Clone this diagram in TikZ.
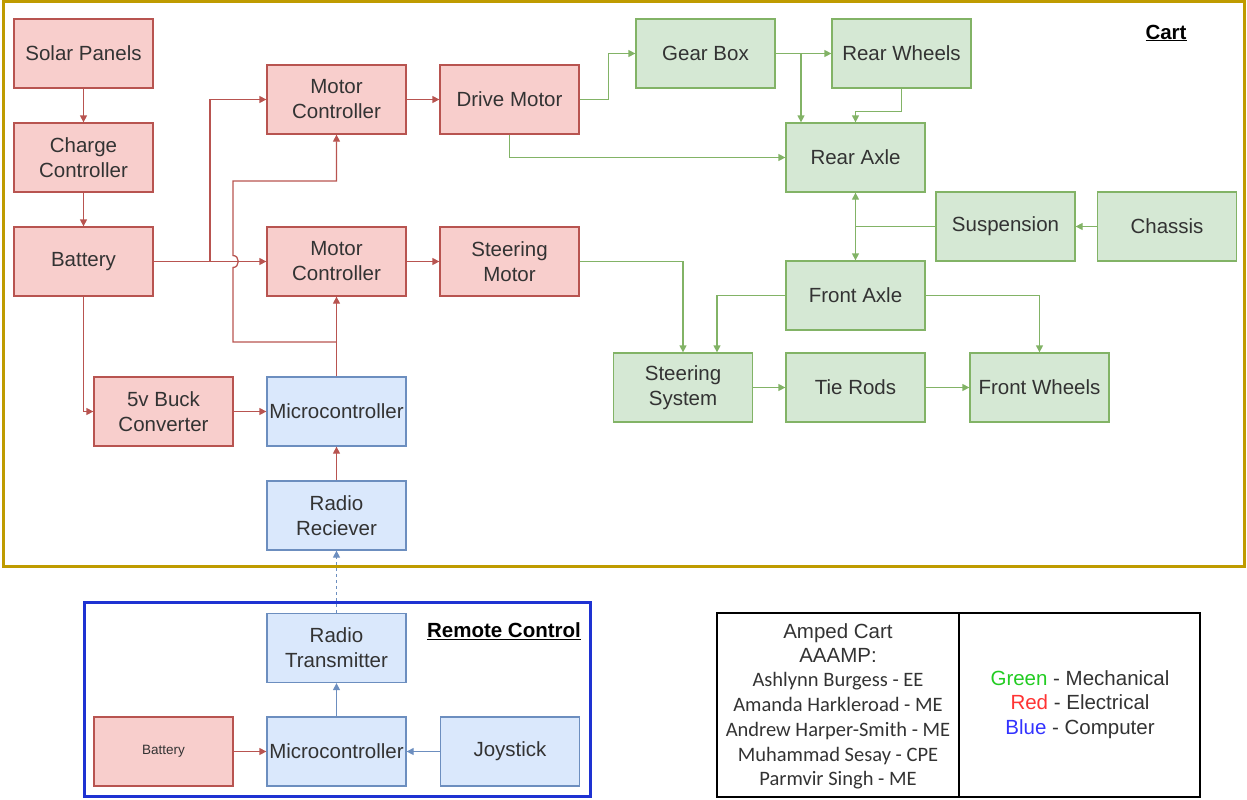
\documentclass[tikz,border=0pt]{standalone}
\usepackage{fontspec}
\setmainfont{Liberation Sans}
\newfontfamily\carlito{Carlito}
\usetikzlibrary{arrows.meta,calc}
\definecolor{rfill}{HTML}{F8CECC}
\definecolor{rdraw}{HTML}{B85450}
\definecolor{gfill}{HTML}{D5E8D4}
\definecolor{gdraw}{HTML}{82B366}
\definecolor{bfill}{HTML}{DAE8FC}
\definecolor{bdraw}{HTML}{6C8EBF}
\definecolor{gold}{HTML}{BF9B00}
\definecolor{rcblue}{HTML}{1E32D2}
\definecolor{txt}{HTML}{333333}
\definecolor{lgreen}{HTML}{22CC22}
\definecolor{lred}{HTML}{FF3333}
\definecolor{lblue}{HTML}{3333FF}
\tikzset{
  box/.style={minimum width=139pt, minimum height=69pt, inner sep=0pt, align=center, line width=1.3pt,
    text=txt, font=\fontsize{20.5}{25}\selectfont},
  rbox/.style={box, fill=rfill, draw=rdraw},
  gbox/.style={box, fill=gfill, draw=gdraw},
  bbox/.style={box, fill=bfill, draw=bdraw},
  tip/.style={-{Triangle[length=7pt,width=7pt]}},
  rarr/.style={tip, draw=rdraw, line width=1.3pt},
  garr/.style={tip, draw=gdraw, line width=1.3pt},
  barr/.style={tip, draw=bdraw, line width=1.3pt},
  lbl/.style={font=\fontsize{20.5}{24}\selectfont\bfseries, text=black},
  legtxt/.style={font=\fontsize{20.5}{24.5}\selectfont, text=txt, align=center},
}
\begin{document}
\begin{tikzpicture}[x=1pt,y=-1pt]
\useasboundingbox (0,0) rectangle (1247,800);
% frames
\draw[gold, line width=3pt] (3,2) rectangle (1244,566);
\draw[rcblue, line width=3pt] (84,602) rectangle (590,796);
\node[lbl] (cartlbl) at (1166,33) {\underline{Cart}};
\node[lbl] (rclbl) at (504,631) {\underline{Remote Control}};
% red / blue nodes in cart
\node[rbox] (solar) at (83.5,53.5) {Solar Panels};
\node[rbox] (charge) at (83.5,157.5) {Charge\\Controller};
\node[rbox] (batt) at (83.5,261.5) {Battery};
\node[rbox] (mc1) at (336.5,99.5) {Motor\\Controller};
\node[rbox] (mc2) at (336.5,261.5) {Motor\\Controller};
\node[rbox] (drive) at (509.5,99.5) {Drive Motor};
\node[rbox] (steer) at (509.5,261.5) {Steering\\Motor};
\node[rbox] (buck) at (163.5,411.5) {5v Buck\\Converter};
\node[bbox] (micro) at (336.5,411.5) {Microcontroller};
\node[bbox] (recv) at (336.5,515.5) {Radio\\Reciever};
% green nodes
\node[gbox] (gear) at (705.5,53.5) {Gear Box};
\node[gbox] (rearw) at (901.5,53.5) {Rear Wheels};
\node[gbox] (rearax) at (855.5,157.5) {Rear Axle};
\node[gbox] (susp) at (1005.5,226.5) {Suspension};
\node[gbox] (chassis) at (1167,226.5) {Chassis};
\node[gbox] (frontax) at (855.5,295.5) {Front Axle};
\node[gbox] (steersys) at (683,387.5) {Steering\\System};
\node[gbox] (tie) at (855.5,387.5) {Tie Rods};
\node[gbox] (frontw) at (1039.5,387.5) {Front Wheels};
% remote
\node[bbox] (trans) at (336.5,648) {Radio\\Transmitter};
\node[bbox] (rmicro) at (336.5,751.5) {Microcontroller};
\node[rbox, font=\fontsize{13.5}{16}\selectfont] (rbatt) at (163.5,751.5) {Battery};
\node[bbox] (joy) at (510,751.5) {Joystick};
% red connectors
\draw[rarr] (solar.south) -- (charge.north);
\draw[rarr] (charge.south) -- (batt.north);
\draw[rarr] (batt.east) -- (mc2.west);
\coordinate (j1) at (210,261.5);
\draw[rarr] (j1) |- (mc1.west);
\draw[rarr] (micro.north) -- (mc2.south);
\coordinate (k1) at (336.5,342);
\coordinate (k2) at (233,342);
\coordinate (k3) at (233,181);
\draw[rarr] (k1) -- (k2) -- (233,267.5) .. controls (240,267.5) and (240,255.5) .. (233,255.5) -- (k3) -| (mc1.south);
\draw[rarr] (batt.south) |- (buck.west);
\draw[rarr] (buck.east) -- (micro.west);
\draw[rarr] (recv.north) -- (micro.south);
\draw[rarr] (mc1.east) -- (drive.west);
\draw[rarr] (mc2.east) -- (steer.west);
% green connectors
\draw[garr] (drive.east) -- ++(29,0) |- (gear.west);
\draw[garr] (drive.south) |- (rearax.west);
\draw[garr] (gear.east) -- (rearw.west);
\coordinate (g1) at (801,53.5);
\draw[garr] (g1) -- (g1 |- rearax.north);
\draw[garr] (rearw.south) -- ++(0,23) -| (rearax.north);
\coordinate (s1) at (rearax.south |- susp.west);
\draw[garr] (susp.west) -- (s1) -- (rearax.south);
\draw[garr] (s1) -- (frontax.north);
\draw[garr] (chassis.west) -- (susp.east);
\draw[garr] (steer.east) -| (steersys.north);
\draw[garr] (frontax.west) -| ([xshift=34pt]steersys.north);
\draw[garr] (frontax.east) -| (frontw.north);
\draw[garr] (steersys.east) -- (tie.west);
\draw[garr] (tie.east) -- (frontw.west);
% remote connectors
\draw[rarr] (rbatt.east) -- (rmicro.west);
\draw[barr] (joy.west) -- (rmicro.east);
\draw[barr] (rmicro.north) -- (trans.south);
\draw[barr, dash pattern=on 3pt off 3pt] (trans.north) -- (recv.south);
% legend
\draw[black, line width=2.5pt] (717,613) rectangle (1200,797);
\draw[black, line width=2.5pt] (959,613) -- (959,797);
\node[legtxt] (title) at (838,643) {Amped Cart\\AAAMP:};
\node[legtxt, font=\carlito\fontsize{20.5}{24.7}\selectfont] (names) at (838,731) {Ashlynn Burgess - EE\\Amanda Harkleroad - ME\\Andrew Harper-Smith - ME\\Muhammad Sesay - CPE\\Parmvir Singh - ME};
\node[legtxt] (key) at (1080,704.5) {\textcolor{lgreen}{Green} - Mechanical\\\textcolor{lred}{Red} - Electrical\\\textcolor{lblue}{Blue} - Computer};
\end{tikzpicture}
\end{document}
